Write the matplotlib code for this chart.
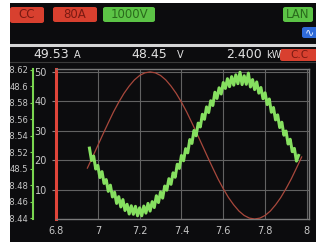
import matplotlib
matplotlib.use("Agg")
import matplotlib.pyplot as plt
from matplotlib.patches import Rectangle, FancyBboxPatch
from matplotlib.lines import Line2D
import matplotlib.ticker as mticker

# readings shown on the scope screen
x_ticks = [6.8, 7.0, 7.2, 7.4, 7.6, 7.8, 8.0]
x_tick_labels = ["6.8", "7", "7.2", "7.4", "7.6", "7.8", "8"]
y_ticks = [10, 20, 30, 40, 50]
volt_ticks = [48.44, 48.46, 48.48, 48.50, 48.52, 48.54, 48.56, 48.58, 48.60, 48.62]

# red reference trace (smooth)
red_x = [6.950, 6.975, 7.000, 7.025, 7.050, 7.075, 7.100, 7.125, 7.150, 7.175,
         7.200, 7.225, 7.250, 7.275, 7.300, 7.325, 7.350, 7.375, 7.400, 7.425,
         7.450, 7.475, 7.500, 7.525, 7.550, 7.575, 7.600, 7.625, 7.650, 7.675,
         7.700, 7.725, 7.750, 7.775, 7.800, 7.825, 7.850, 7.875, 7.900, 7.925,
         7.950, 7.975]
red_y = [17.3, 21.1, 25.0, 28.9, 32.7, 36.4, 39.7, 42.7, 45.2, 47.3,
         48.8, 49.7, 50.0, 49.7, 48.8, 47.3, 45.2, 42.7, 39.7, 36.4,
         32.7, 28.9, 25.0, 21.1, 17.3, 13.6, 10.3, 7.3, 4.8, 2.7,
         1.2, 0.3, 0.0, 0.3, 1.2, 2.7, 4.8, 7.3, 10.3, 13.6,
         17.3, 21.1]

# green measured trace (noisy), one sample per 0.01
green_x = [round(6.96 + 0.01 * i, 2) for i in range(101)]
green_y = [24.1, 19.9, 21.4, 17.0, 18.2, 14.1, 16.1, 12.1, 13.4, 9.4,
           11.5, 7.5, 9.1, 5.3, 7.6, 4.1, 6.6, 2.9, 5.0, 1.7,
           4.5, 1.6, 4.3, 1.1, 3.8, 1.1, 4.4, 2.0, 5.3, 2.7,
           5.9, 3.9, 7.9, 5.6, 9.2, 7.1, 11.2, 9.8, 13.7, 11.8,
           15.7, 14.2, 18.6, 17.2, 21.6, 19.8, 23.9, 22.5, 27.0, 25.7,
           30.1, 28.3, 32.6, 31.3, 35.6, 33.9, 38.1, 36.2, 40.2, 38.6,
           43.1, 41.0, 44.6, 42.5, 46.4, 44.4, 47.7, 45.0, 48.4, 45.5,
           49.0, 46.0, 49.9, 45.7, 48.7, 45.8, 49.6, 44.9, 47.4, 44.0,
           46.6, 42.8, 44.7, 40.9, 42.9, 38.9, 40.8, 36.3, 37.9, 33.7,
           35.4, 31.1, 32.9, 28.5, 29.9, 25.5, 27.1, 22.9, 24.0, 19.7,
           21.6]

W, H = 316, 242
bg = "#0c0c0e"
txt = "#c8c8c8"


def fx(px):
    return px / W


def fy(py):
    return 1 - py / H


fig = plt.figure(figsize=(W / 100, H / 100), dpi=100, facecolor="white")

# screen background
fig.add_artist(Rectangle((fx(10), 0), 1 - fx(10), fy(3), transform=fig.transFigure,
                         facecolor=bg, edgecolor="none", zorder=0))
# separator lines
fig.add_artist(Line2D([fx(10), 1], [fy(45), fy(45)], transform=fig.transFigure,
                      color="#d6d6d6", lw=2.2))
fig.add_artist(Line2D([fx(10), 1], [fy(62), fy(62)], transform=fig.transFigure,
                      color="#3a3a3a", lw=0.8))


def badge(x0, y0, x1, y1, label, fc, tc, fs):
    fig.add_artist(FancyBboxPatch((fx(x0), fy(y1)), fx(x1) - fx(x0), fy(y0) - fy(y1),
                                  boxstyle="round,pad=0,rounding_size=0.008",
                                  transform=fig.transFigure, facecolor=fc,
                                  edgecolor="none", zorder=2))
    fig.text(fx((x0 + x1) / 2), fy((y0 + y1) / 2), label, color=tc, fontsize=fs,
             ha="center", va="center", zorder=3)


badge(10, 7, 44, 23, "CC", "#d8402f", "#7a1a12", 8.5)
badge(53, 7, 97, 22, "80A", "#d8402f", "#7a1a12", 8.5)
badge(103, 7, 155, 22, "1000V", "#5cc446", "#2a6a1c", 8.5)
badge(283, 7, 313, 22, "LAN", "#5cc446", "#2a6a1c", 8.5)
badge(302, 27, 318, 38, "∿", "#2f6ad8", "#e8f0ff", 8)
badge(280, 49, 318, 61, "C.C", "#d8402f", "#7a1a12", 7.5)

# value row
fig.text(fx(69), fy(55), "49.53", color="#e2e2e2", fontsize=9, ha="right", va="center")
fig.text(fx(74), fy(55), "A", color="#e2e2e2", fontsize=7, ha="left", va="center")
fig.text(fx(167), fy(55), "48.45", color="#e2e2e2", fontsize=9, ha="right", va="center")
fig.text(fx(177), fy(55), "V", color="#e2e2e2", fontsize=7, ha="left", va="center")
fig.text(fx(262), fy(55), "2.400", color="#e2e2e2", fontsize=9, ha="right", va="center")
fig.text(fx(266), fy(55), "kW", color="#e2e2e2", fontsize=7, ha="left", va="center")

# plot area
ax = fig.add_axes([fx(56), fy(219), fx(309) - fx(56), fy(69) - fy(219)])
ax.set_facecolor(bg)
ax.set_xlim(6.8, 8.01)
ax.set_ylim(0, 51)
ax.set_xticks(x_ticks)
ax.set_xticklabels(x_tick_labels)
ax.set_yticks(y_ticks)
ax.grid(True, color="#626262", lw=0.8)
ax.tick_params(colors="#8a8a8a", labelcolor=txt, labelsize=7, length=3, width=0.8)
ax.tick_params(axis="x", length=0, pad=5)
for s in ["top", "right", "bottom"]:
    ax.spines[s].set_color("#7a7a7a")
    ax.spines[s].set_linewidth(1.0)
ax.spines["left"].set_color("#e0453a")
ax.spines["left"].set_linewidth(2.2)

ax.plot(red_x, red_y, color="#a8483c", lw=0.9, zorder=3)
ax.plot(green_x, green_y, color="#86e060", lw=2.2, zorder=4)

# voltage axis on the far left
ax2 = ax.twinx()
ax2.set_ylim(48.4388, 48.6212)
ax2.set_yticks(volt_ticks)
ax2.yaxis.set_major_formatter(mticker.FuncFormatter(lambda v, p: f"{v:.2f}".rstrip("0")))
ax2.yaxis.set_ticks_position("left")
ax2.yaxis.set_label_position("left")
ax2.spines["left"].set_position(("outward", 16.5))
ax2.spines["left"].set_color("#7ad650")
ax2.spines["left"].set_linewidth(1.5)
for s in ["top", "right", "bottom"]:
    ax2.spines[s].set_visible(False)
ax2.tick_params(colors="#7ad650", labelcolor=txt, labelsize=6, length=2.5, width=0.8, pad=0.8)

# white photo margin on the left and top, drawn over the clipped labels
fig.add_artist(Rectangle((0, 0), fx(10), 1, transform=fig.transFigure,
                         facecolor="white", edgecolor="none", zorder=10))
fig.add_artist(Rectangle((0, fy(3)), 1, 1 - fy(3), transform=fig.transFigure,
                         facecolor="white", edgecolor="none", zorder=10))

fig.savefig("out.png", dpi=100, facecolor=fig.get_facecolor())
